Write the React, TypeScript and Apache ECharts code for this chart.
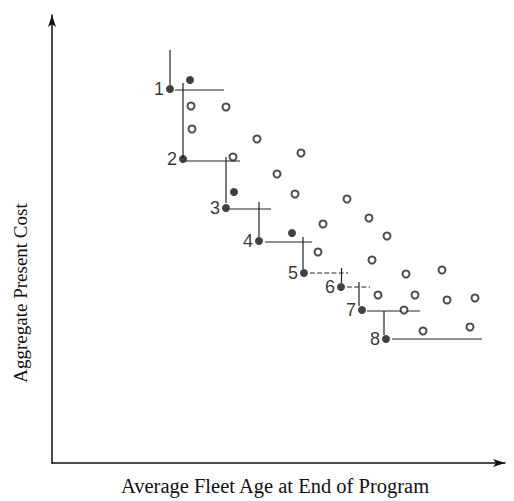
import React, { useEffect, useRef } from "react";
import * as echarts from "echarts";

// Numbered programs (filled points)
const labeledNames = ["1", "2", "3", "4", "5", "6", "7", "8"];
const labeledX = [118, 131, 174, 207, 252, 289, 310, 334];
const labeledY = [374, 304, 255, 222, 190, 176, 153, 124];

// Other filled points
const filledX = [138, 182, 240];
const filledY = [383, 271, 230];

// Open points
const openX = [139, 174, 140, 205, 249, 181, 225, 243, 295, 317, 271, 335, 266, 320, 354, 390, 326, 363, 395, 423, 352, 371, 418];
const openY = [357, 356, 334, 324, 310, 306, 289, 269, 264, 245, 239, 227, 211, 203, 189, 193, 168, 168, 163, 165, 153, 132, 136];

// Staircase segments: [x1, y1, x2, y2]
const solidSegments = [
  [118, 413, 118, 378],
  [123, 373, 172, 373],
  [131, 380, 131, 305],
  [134, 302, 188, 302],
  [174, 306, 174, 260],
  [178, 254, 219, 254],
  [207, 261, 207, 226],
  [213, 221, 260, 221],
  [251, 226, 251, 194],
  [289.5, 195, 289.5, 180],
  [307, 181, 307, 157],
  [315, 152, 368, 152],
  [332, 152, 332, 128],
  [340, 124, 430, 124],
];
const dashedSegments = [
  [258, 190, 296, 190],
  [295, 176, 318, 176],
];

const xAxisTitle = "Average Fleet Age at End of Program";
const yAxisTitle = "Aggregate Present Cost";

export default function App() {
  const ref = useRef<HTMLDivElement>(null);
  useEffect(() => {
    if (!ref.current) return;
    const chart = echarts.init(ref.current, null, { renderer: "svg" });
    const segSeries = (segs: number[][], type: string) =>
      segs.map((s) => ({
        type: "line",
        data: [
          [s[0], s[1]],
          [s[2], s[3]],
        ],
        symbol: "none",
        silent: true,
        lineStyle: { color: "#222", width: 1.2, type },
        z: 1,
      }));
    chart.setOption({
      animation: false,
      backgroundColor: "#fff",
      grid: { left: 52, right: 9, top: 15, bottom: 38 },
      xAxis: {
        type: "value",
        min: 0,
        max: 453,
        splitLine: { show: false },
        axisTick: { show: false },
        axisLabel: { show: false },
        axisLine: {
          show: true,
          lineStyle: { color: "#111", width: 1.5 },
          symbol: ["none", "arrow"],
          symbolSize: [6, 12],
        },
      },
      yAxis: {
        type: "value",
        min: 0,
        max: 448,
        splitLine: { show: false },
        axisTick: { show: false },
        axisLabel: { show: false },
        axisLine: {
          show: true,
          lineStyle: { color: "#111", width: 1.5 },
          symbol: ["none", "arrow"],
          symbolSize: [6, 12],
        },
      },
      graphic: [
        {
          type: "text",
          x: 275,
          y: 486,
          style: {
            text: xAxisTitle,
            font: '20.5px "Liberation Serif"',
            fill: "#111",
            align: "center",
            verticalAlign: "middle",
          },
        },
        {
          type: "text",
          x: 20,
          y: 293,
          rotation: Math.PI / 2,
          style: {
            text: yAxisTitle,
            font: '19px "Liberation Serif"',
            fill: "#111",
            align: "center",
            verticalAlign: "middle",
          },
        },
      ],
      series: [
        ...segSeries(solidSegments, "solid"),
        ...segSeries(dashedSegments, "dashed"),
        {
          type: "scatter",
          data: openX.map((x, i) => [x, openY[i]]),
          symbol: "circle",
          symbolSize: 7,
          itemStyle: { color: "#fff", borderColor: "#222", borderWidth: 2 },
          z: 3,
        },
        {
          type: "scatter",
          data: filledX.map((x, i) => [x, filledY[i]]),
          symbol: "circle",
          symbolSize: 8,
          itemStyle: { color: "#111" },
          z: 3,
        },
        {
          type: "scatter",
          data: labeledX.map((x, i) => ({ value: [x, labeledY[i]], name: labeledNames[i] })),
          symbol: "circle",
          symbolSize: 8,
          itemStyle: { color: "#111" },
          label: {
            show: true,
            position: "left",
            distance: 2,
            formatter: (p: any) => p.name,
            fontFamily: "Liberation Sans",
            fontSize: 18,
            color: "#000",
          },
          z: 4,
        },
      ],
    });
    return () => chart.dispose();
  }, []);
  return (
    <div
      ref={ref}
      style={{ position: "fixed", left: 0, top: 0, width: 514, height: 501, background: "#fff" }}
    />
  );
}
